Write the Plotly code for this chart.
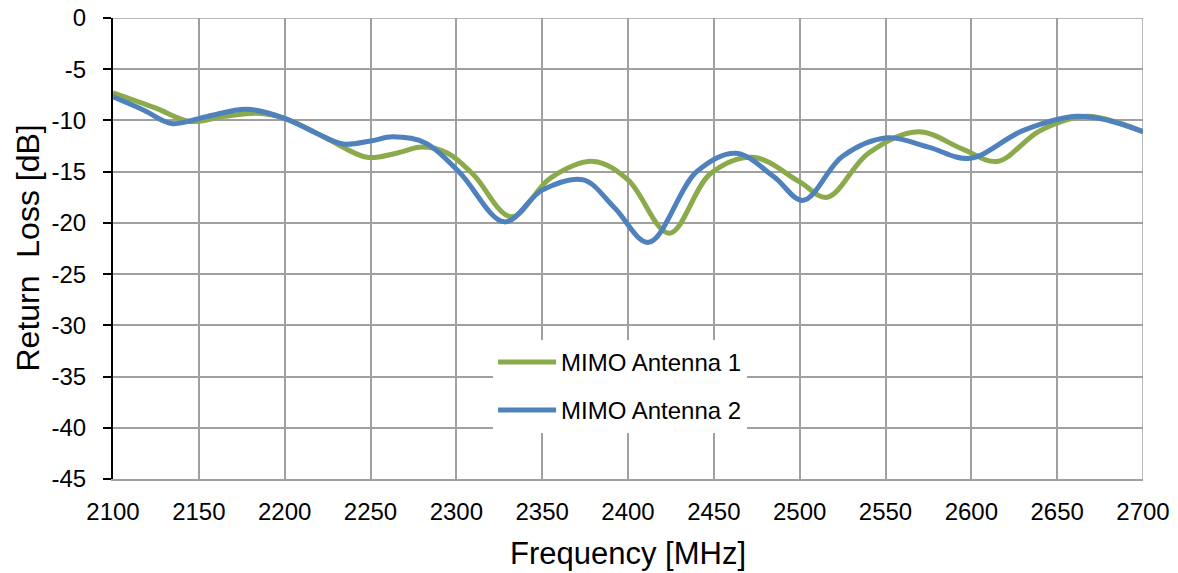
import plotly.graph_objects as go

freq_a1 = [2100, 2125, 2145, 2165, 2184, 2200, 2225, 2248, 2265, 2280, 2295, 2310, 2332, 2355, 2380,
           2400, 2424, 2448, 2473, 2500, 2516, 2540, 2569, 2595, 2615, 2640, 2667, 2685, 2700]
rl_a1 = [-7.3, -8.8, -10.1, -9.6, -9.3, -9.8, -11.8, -13.6, -13.2, -12.6, -13.2, -15.3, -19.4, -15.6, -14.0,
         -15.8, -21.0, -15.2, -13.6, -16.0, -17.5, -13.2, -11.1, -12.8, -14.0, -11.0, -9.6, -10.2, -11.1]

freq_a2 = [2100, 2118, 2134, 2155, 2178, 2200, 2218, 2234, 2250, 2263, 2282, 2302, 2328, 2350, 2374,
           2392, 2412, 2440, 2463, 2485, 2502, 2525, 2551, 2575, 2599, 2630, 2661, 2680, 2700]
rl_a2 = [-7.7, -9.0, -10.3, -9.6, -8.9, -9.8, -11.2, -12.3, -12.0, -11.6, -12.2, -15.1, -19.9, -16.8, -15.8,
         -18.5, -21.9, -15.0, -13.2, -15.5, -17.8, -13.5, -11.7, -12.6, -13.7, -11.0, -9.6, -10.0, -11.1]

series_names = ["MIMO Antenna 1", "MIMO Antenna 2"]
x_ticks = list(range(2100, 2701, 50))
y_ticks = list(range(-45, 1, 5))
x_title = "Frequency [MHz]"
y_title = "Return\u00a0 Loss [dB]"

font_family = "Liberation Sans, Arial, sans-serif"
grid_c = "#A0A0A0"

fig = go.Figure()
fig.add_trace(go.Scatter(x=freq_a1, y=rl_a1, mode="lines", name=series_names[0], legendgroup="a1",
                         line=dict(color="#8BAA4B", width=5, shape="spline", smoothing=1.0)))
fig.add_trace(go.Scatter(x=freq_a2, y=rl_a2, mode="lines", name=series_names[1], legendgroup="a2",
                         line=dict(color="#4F81BD", width=5, shape="spline", smoothing=1.0)))

# page body has an 8px default margin, so the figure is 8px smaller and offset
fig.update_layout(
    width=1170, height=565,
    margin=dict(l=105, r=35, t=10, b=94),
    paper_bgcolor="white", plot_bgcolor="white",
    font=dict(family=font_family, color="black"),
    showlegend=True,
    legend=dict(x=0.369, y=0.302, xanchor="left", yanchor="top",
                bgcolor="white", font=dict(size=24, family=font_family),
                itemwidth=58, traceorder="grouped", tracegroupgap=14),
    xaxis=dict(range=[2100, 2700], tickvals=x_ticks, ticktext=[str(v) for v in x_ticks],
               showgrid=True, gridcolor=grid_c, gridwidth=1.5,
               showline=True, linecolor=grid_c, linewidth=1.5,
               ticks="", tickfont=dict(size=24), ticklabelstandoff=10,
               ticklabeloverflow="allow",
               zeroline=False, automargin=False),
    yaxis=dict(range=[-45, 0], tickvals=y_ticks, ticktext=[str(v) for v in y_ticks],
               showgrid=True, gridcolor=grid_c, gridwidth=1.5,
               showline=True, linecolor="black", linewidth=2,
               ticks="outside", ticklen=8, tickwidth=1.5, tickcolor="black",
               tickfont=dict(size=24), ticklabelstandoff=12,
               ticklabeloverflow="allow",
               zeroline=False, automargin=False),
    annotations=[
        dict(text=x_title, xref="paper", yref="paper", x=0.5, y=0, xanchor="center", yanchor="middle",
             yshift=-74, showarrow=False, font=dict(size=31)),
        dict(text=y_title, xref="paper", yref="paper", x=0, y=0.5, xanchor="center", yanchor="middle",
             xshift=-86, textangle=-90, showarrow=False, font=dict(size=32)),
    ],
)
fig.add_shape(type="line", xref="x", yref="y", x0=2700, x1=2700, y0=-45, y1=0,
              line=dict(color=grid_c, width=1.5), layer="below")
fig.add_shape(type="line", xref="x", yref="y", x0=2100, x1=2700, y0=0, y1=0,
              line=dict(color=grid_c, width=1.5), layer="below")

fig.write_html("out.html")
